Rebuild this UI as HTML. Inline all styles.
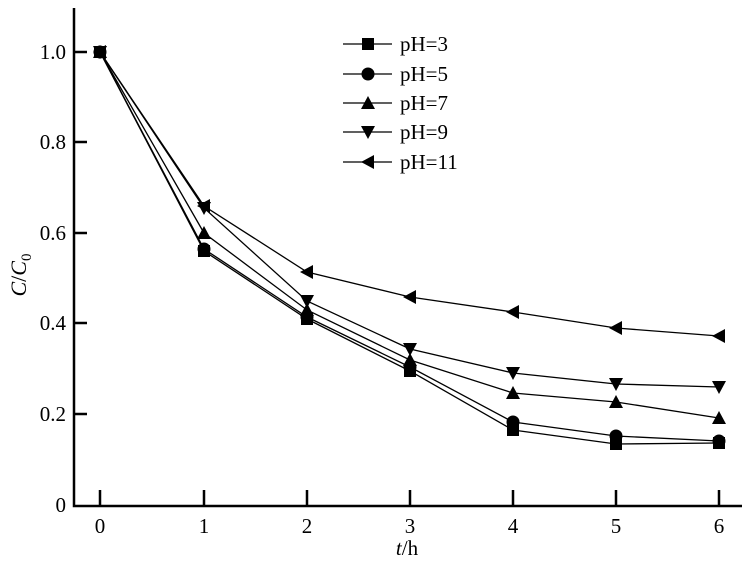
<!DOCTYPE html>
<html><head><meta charset="utf-8"><style>body{margin:0;background:#fff}svg{display:block}</style></head><body>
<svg width="746" height="561" xmlns="http://www.w3.org/2000/svg" font-family="Liberation Serif, serif" font-size="21">
<defs>
<path id="sq" d="M-6,-6H6V6H-6Z"/>
<circle id="ci" r="6.5"/>
<path id="tu" d="M0,-7L7,6H-7Z"/>
<path id="td" d="M0,7L7,-6H-7Z"/>
<path id="tl" d="M-7,0L6,-7V7Z"/>
</defs>
<g stroke="#000" stroke-width="2.5" fill="none">
<path d="M74,8V506H742"/>
<path d="M74,52h13M74,142h13M74,233h13M74,323h13M74,414h13"/>
<path d="M100,505v-15M204,505v-15M307,505v-15M410,505v-15M513,505v-15M616,505v-15M719,505v-15"/>
</g>
<g text-anchor="end">
<text x="66" y="59">1.0</text><text x="66" y="149">0.8</text><text x="66" y="240">0.6</text><text x="66" y="330">0.4</text><text x="66" y="421">0.2</text><text x="66" y="512">0</text>
</g>
<g text-anchor="middle">
<text x="100" y="533">0</text><text x="204" y="533">1</text><text x="307" y="533">2</text><text x="410" y="533">3</text><text x="513" y="533">4</text><text x="616" y="533">5</text><text x="719" y="533">6</text>
<text x="407" y="555"><tspan font-style="italic">t</tspan>/h</text>
</g>
<text transform="translate(26,275) rotate(-90)" text-anchor="middle" font-size="22"><tspan font-style="italic">C</tspan>/<tspan font-style="italic">C</tspan><tspan font-size="15" dy="5">0</tspan></text>
<g stroke="#000" stroke-width="1.3" fill="none">
<polyline points="100,52 204,251 307,319 410,371 513,430 616,444 719,443"/>
<polyline points="100,52 204,249 307,317 410,367 513,422 616,436 719,441"/>
<polyline points="100,52 204,233 307,310 410,360 513,393 616,402 719,418"/>
<polyline points="100,52 204,208 307,301 410,349 513,373 616,384 719,387"/>
<polyline points="100,52 204,206 307,272 410,297 513,312 616,328 719,336"/>
</g>
<g fill="#000">
<use href="#sq" x="100" y="52"/><use href="#sq" x="204" y="251"/><use href="#sq" x="307" y="319"/><use href="#sq" x="410" y="371"/><use href="#sq" x="513" y="430"/><use href="#sq" x="616" y="444"/><use href="#sq" x="719" y="443"/>
<use href="#ci" x="100" y="52"/><use href="#ci" x="204" y="249"/><use href="#ci" x="307" y="317"/><use href="#ci" x="410" y="367"/><use href="#ci" x="513" y="422"/><use href="#ci" x="616" y="436"/><use href="#ci" x="719" y="441"/>
<use href="#tu" x="100" y="52"/><use href="#tu" x="204" y="233"/><use href="#tu" x="307" y="310"/><use href="#tu" x="410" y="360"/><use href="#tu" x="513" y="393"/><use href="#tu" x="616" y="402"/><use href="#tu" x="719" y="418"/>
<use href="#td" x="100" y="52"/><use href="#td" x="204" y="208"/><use href="#td" x="307" y="301"/><use href="#td" x="410" y="349"/><use href="#td" x="513" y="373"/><use href="#td" x="616" y="384"/><use href="#td" x="719" y="387"/>
<use href="#tl" x="100" y="52"/><use href="#tl" x="204" y="206"/><use href="#tl" x="307" y="272"/><use href="#tl" x="410" y="297"/><use href="#tl" x="513" y="312"/><use href="#tl" x="616" y="328"/><use href="#tl" x="719" y="336"/>
</g>
<g stroke="#000" stroke-width="1.3">
<path d="M343,44H392M343,74H392M343,103H392M343,132H392M343,162H392"/>
</g>
<g fill="#000">
<use href="#sq" x="368" y="44"/><use href="#ci" x="368" y="74"/><use href="#tu" x="368" y="103"/><use href="#td" x="368" y="132"/><use href="#tl" x="368" y="162"/>
<text x="400" y="51">pH=3</text><text x="400" y="81">pH=5</text><text x="400" y="110">pH=7</text><text x="400" y="139">pH=9</text><text x="400" y="169">pH=11</text>
</g>
</svg>
</body></html>
